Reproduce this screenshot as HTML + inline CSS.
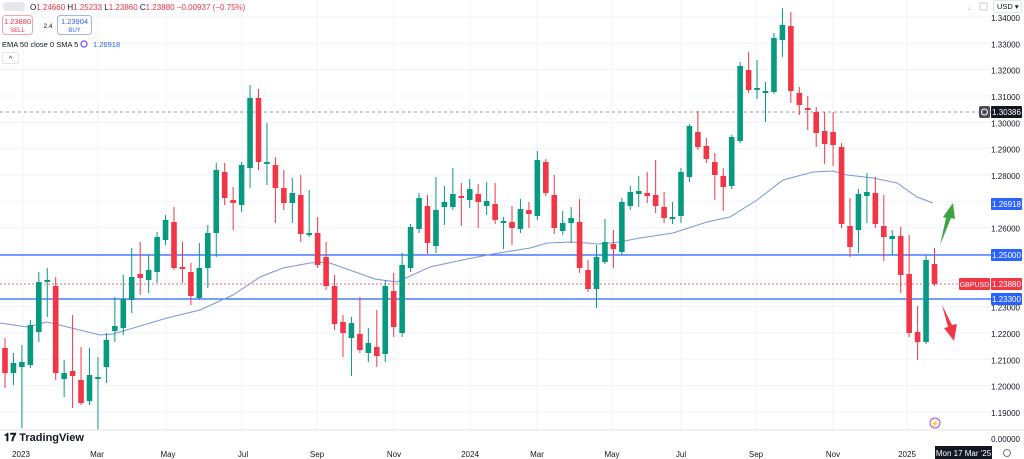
<!DOCTYPE html>
<html><head><meta charset="utf-8"><style>
body{margin:0;background:#fff;width:1024px;height:459px;overflow:hidden;font-family:"Liberation Sans",sans-serif}
svg{position:absolute;left:0;top:0}
</style></head><body>
<svg id="s" width="1024" height="459" xmlns="http://www.w3.org/2000/svg" font-family="Liberation Sans, sans-serif"></svg>
<script>
const C=[[348,373,338,388],[373,363,353,385],[367,362,345,428],[365,325,320,368],[332,282,272,342],[281,280,268,317],[286,373,277,380],[379,373,360,397],[371,376,315,408],[380,403,347,405],[401,375,348,405],[378,377,357,430],[367,340,333,383],[331,326,297,342],[328,299,275,335],[300,277,248,313],[274,278,242,295],[280,270,255,293],[272,237,232,283],[240,220,215,245],[222,268,207,270],[267,269,242,283],[272,296,263,305],[298,268,243,300],[268,233,225,288],[233,170,163,257],[172,198,163,205],[200,203,187,230],[205,165,162,212],[168,98,85,188],[98,162,89,170],[163,162,123,185],[165,188,157,223],[188,203,170,210],[203,193,178,223],[195,234,175,242],[234,233,190,237],[233,265,217,268],[257,286,242,290],[286,324,275,330],[322,333,315,357],[338,323,317,376],[334,350,297,353],[353,343,328,362],[347,356,310,367],[354,286,280,362],[291,327,273,337],[333,265,253,337],[268,227,224,272],[229,198,193,233],[206,243,195,254],[246,210,177,253],[207,202,186,225],[207,194,168,210],[196,198,183,226],[200,189,179,208],[194,202,184,228],[206,201,182,215],[204,220,183,224],[221,221,217,249],[222,228,206,245],[229,209,199,233],[210,214,202,228],[216,160,151,220],[162,193,159,196],[195,228,175,234],[231,223,211,235],[223,218,207,243],[222,268,199,273],[270,289,260,292],[289,257,245,308],[262,242,219,264],[244,249,230,268],[252,202,198,255],[206,192,186,210],[194,191,176,207],[193,196,172,203],[195,206,160,213],[207,218,192,223],[219,217,202,224],[216,172,168,223],[177,126,124,182],[132,147,111,150],[146,159,138,163],[162,175,153,200],[176,187,168,211],[186,137,135,189],[141,66,62,143],[70,90,52,93],[90,88,60,99],[92,91,82,122],[92,38,33,94],[40,25,8,57],[26,91,12,103],[93,105,87,115],[108,110,96,130],[112,133,107,147],[131,144,112,164],[132,145,112,166],[147,224,143,228],[226,247,198,257],[230,194,189,253],[196,192,173,223],[193,224,177,228],[226,237,195,261],[239,236,230,255],[236,275,227,293],[274,333,235,337],[332,342,306,360],[342,260,255,344],[264,284,248,286]];
const E=[[0,323],[27,327],[47,322],[100,335],[113,334],[167,318],[200,310],[233,295],[260,277],[283,268],[310,263],[327,262],[375,279],[397,282],[430,267],[467,259],[493,254],[530,248],[547,243],[570,242],[587,243],[597,244],[620,242],[640,238],[673,233],[707,222],[730,217],[757,200],[783,180],[813,172],[833,171],[847,175],[873,178],[897,183],[917,197],[933,203]];
let h='';
for(let i=0;i<16;i++){let y=17+i*26.33;h+=`<line x1="0" x2="993" y1="${y}" y2="${y}" stroke="#f0f3fa"/>`;}
[23,98,166,242,317,394,470,537,612,681,756,833,907].forEach(x=>h+=`<line x1="${x}" x2="${x}" y1="0" y2="430" stroke="#f0f3fa"/>`);
h+=`<line x1="0" x2="993" y1="112" y2="112" stroke="#9598a1" stroke-dasharray="3,3"/>`;
h+=`<line x1="0" x2="993" y1="284" y2="284" stroke="#f23645" stroke-width="0.7" stroke-dasharray="2,2"/>`;
h+=`<line x1="0" x2="993" y1="255" y2="255" stroke="#2962ff" stroke-width="1.3"/>`;
h+=`<line x1="0" x2="993" y1="299" y2="299" stroke="#2962ff" stroke-width="1.3"/>`;
h+=`<polyline fill="none" stroke="#7b95e0" stroke-width="1" points="${E.map(p=>p.join(',')).join(' ')}"/>`;
C.forEach((c,i)=>{let x=5+i*8.45,[o,cl,hi,lo]=c,g=cl<=o,col=g?'#089981':'#f23645';
let t=Math.min(o,cl),b=Math.max(o,cl);if(b-t<2){b=t+2}
h+=`<line x1="${x}" x2="${x}" y1="${hi}" y2="${lo}" stroke="${col}" stroke-width="1"/><rect x="${x-2.8}" y="${t}" width="5.6" height="${b-t}" fill="${col}"/>`;});
h+=`<path d="M940,245 L946,218 L943,217 L953,203 L955,219 L951,218 Z" fill="#3fa33f"/>`;
h+=`<path d="M942,305 L948,327 L944,328 L954,341 L957,324 L952,325 Z" fill="#f23645"/>`;
for(let i=0;i<16;i++){let p=(1.34-i*0.01).toFixed(5),y=17+i*26.33+4;h+=`<text x="1020" y="${y}" font-size="8" fill="#131722" text-anchor="end">${p}</text>`;}
h+=`<line x1="0" x2="1024" y1="430" y2="430" stroke="#e0e3eb"/>`;
h+=`<text x="1020" y="442" font-size="8" fill="#131722" text-anchor="end">0.00000</text>`;
function lab(y,bg,t){h+=`<rect x="991" y="${y-6}" width="31" height="12" rx="1" fill="${bg}"/><text x="1006.5" y="${y+3}" font-size="8" fill="#fff" text-anchor="middle">${t}</text>`;}
lab(112,'#131722','1.30386');h+=`<rect x="979" y="106" width="11" height="12" rx="2" fill="#4a4e59"/><circle cx="984.5" cy="112" r="3" fill="none" stroke="#fff"/>`;
lab(204,'#2962ff','1.26918');lab(255,'#2962ff','1.25000');lab(284,'#f23645','1.23880');lab(299,'#2962ff','1.23300');
h+=`<rect x="959" y="278" width="31" height="12" rx="1" fill="#f23645"/><text x="974.5" y="287" font-size="7" fill="#fff" text-anchor="middle">GBPUSD</text>`;
[['2023',21],['Mar',97],['May',168],['Jul',243],['Sep',317],['Nov',394],['2024',470],['Mar',537],['May',612],['Jul',681],['Sep',756],['Nov',833],['2025',907]].forEach(([t,x])=>h+=`<text x="${x}" y="457" font-size="8" fill="#131722" text-anchor="middle">${t}</text>`);
h+=`<rect x="935" y="446" width="57" height="13" fill="#131722"/><text x="963.5" y="456" font-size="8" fill="#fff" text-anchor="middle">Mon 17 Mar '25</text>`;
h+=`<circle cx="1007" cy="453" r="3.5" fill="none" stroke="#777"/>`;
h+=`<text x="4" y="441" font-size="11" font-weight="bold" fill="#131722">𝟏𝟕 TradingView</text>`;
h+=`<circle cx="935" cy="423" r="5" fill="none" stroke="#b14fd6"/><text x="935" y="426" font-size="7" fill="#b14fd6" text-anchor="middle">⚡</text>`;
h+=`<rect x="3" y="2" width="22" height="9" rx="3" fill="#e8e8ec"/><text x="30" y="10" font-size="8" fill="#f23645"><tspan fill="#131722">O</tspan>1.24660 <tspan fill="#131722">H</tspan>1.25233 <tspan fill="#131722">L</tspan>1.23860 <tspan fill="#131722">C</tspan>1.23880 −0.00937 (−0.75%)</text>`;
h+=`<rect x="2.5" y="15.5" width="30" height="19" rx="3" fill="#fff" stroke="#f4a8ae"/><text x="17.5" y="24" font-size="7.5" fill="#f23645" text-anchor="middle">1.23880</text><text x="17.5" y="32" font-size="6" fill="#f23645" text-anchor="middle">SELL</text>`;
h+=`<text x="48" y="28" font-size="6.5" fill="#131722" text-anchor="middle">2.4</text>`;
h+=`<rect x="57.5" y="15.5" width="34" height="19" rx="3" fill="#fff" stroke="#9db4f5"/><text x="74.5" y="24" font-size="7.5" fill="#2962ff" text-anchor="middle">1.23904</text><text x="74.5" y="32" font-size="6" fill="#2962ff" text-anchor="middle">BUY</text>`;
h+=`<text x="2" y="47" font-size="7.5" fill="#131722">EMA 50 close 0 SMA 5</text><circle cx="84" cy="44" r="3" fill="none" stroke="#8a6cf0" stroke-width="1.5"/><text x="93" y="47" font-size="7.5" fill="#2962ff">1.26918</text>`;
h+=`<rect x="2.5" y="52.5" width="16" height="11" rx="2" fill="#fff" stroke="#e0e3eb"/><text x="10.5" y="61" font-size="7" fill="#131722" text-anchor="middle">^</text>`;
h+=`<text x="967" y="10" font-size="8" fill="#b2b5be">↓</text><rect x="980" y="3" width="7" height="7" fill="none" stroke="#ccc"/><rect x="993.5" y="0.5" width="28" height="12" rx="2" fill="#fff" stroke="#e0e3eb"/><text x="997" y="9" font-size="7.5" fill="#131722">USD ▾</text>`;
document.getElementById('s').innerHTML=h;
</script>
</body></html>
